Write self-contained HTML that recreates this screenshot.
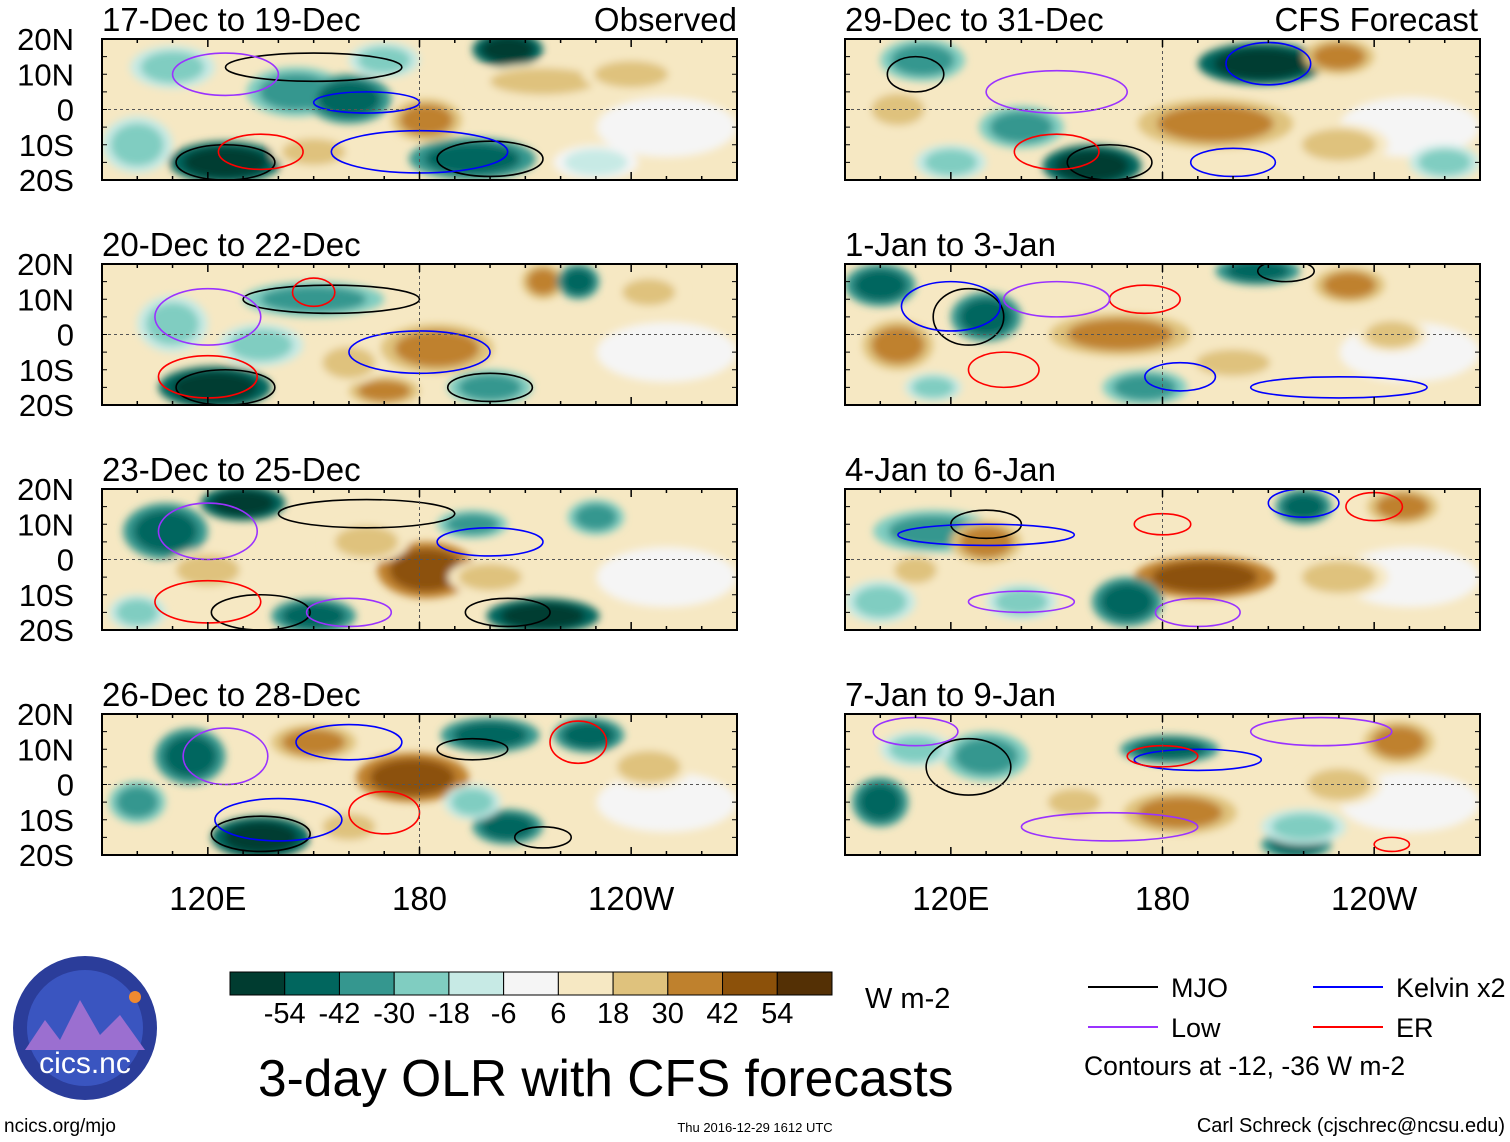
<!DOCTYPE html>
<html><head><meta charset="utf-8"><style>
body{margin:0;background:#fff;width:1510px;height:1142px;overflow:hidden;font-family:"Liberation Sans",sans-serif}
svg{position:absolute;left:0;top:0}
</style></head><body>
<svg id="chart" width="1510" height="1142"></svg>
<script>
const levelColors=["#003c30","#01665e","#35978f","#80cdc1","#c7eae5","#f5f5f5","#f6e8c3","#dfc27d","#bf812d","#8c510a","#543005"];
const levelLabels=["-54","-42","-30","-18","-6","6","18","30","42","54"];
const panelTitles=["17-Dec to 19-Dec","20-Dec to 22-Dec","23-Dec to 25-Dec","26-Dec to 28-Dec","29-Dec to 31-Dec","1-Jan to 3-Jan","4-Jan to 6-Jan","7-Jan to 9-Jan"];
const latTicks=["20N","10N","0","10S","20S"];
const lonTicks=[[120,"120E"],[180,"180"],[240,"120W"]];
// anomaly blobs: [lon, lat, rxDeg, ryDeg, levelIndex]
const blobs0=[[125,-15,16,6,0],[145,5,14,7,2],[160,3,12,7,1],[205,17,10,5,0],[195,-14,18,6,1],[215,8,20,5,7],[182,-3,10,6,8],[110,12,12,6,3],[150,-12,12,5,7],[240,10,14,5,7],[100,-10,10,8,3],[170,14,10,5,3],[230,-15,12,5,4]];
const blobs1=[[122,-15,16,6,0],[150,10,20,5,2],[185,-4,16,7,8],[215,15,6,5,8],[225,15,6,5,1],[135,-3,12,6,3],[200,-15,12,5,2],[245,12,10,5,7],[170,-16,10,4,8],[110,3,10,8,3],[160,-8,10,6,7]];
const blobs2=[[108,8,12,8,1],[130,16,12,5,0],[182,-3,14,8,9],[215,-16,16,5,0],[150,-16,12,5,1],[195,10,10,4,2],[230,12,8,5,2],[165,5,12,6,7],[120,-3,12,6,7],[200,-5,12,5,7],[100,-15,8,5,3]];
const blobs3=[[115,8,10,8,1],[135,-15,14,6,0],[178,2,16,7,9],[200,14,14,5,1],[228,14,10,5,1],[150,12,12,5,8],[205,-12,10,5,1],[160,-12,10,5,7],[245,5,12,6,7],[195,-5,8,5,3],[100,-5,8,6,2]];
const blobs4=[[208,13,18,6,0],[195,-4,22,7,8],[160,-16,14,6,0],[112,14,12,6,2],[260,-15,10,5,3],[140,-5,12,6,2],[230,-10,14,6,7],[105,0,10,6,7],[230,15,10,5,8],[120,-15,10,5,3]];
const blobs5=[[168,0,20,6,8],[130,5,10,7,1],[207,18,12,4,1],[233,14,10,5,8],[175,-15,12,5,2],[100,14,10,6,1],[105,-3,10,7,8],[200,-8,14,5,7],[115,-15,8,4,3],[245,0,10,5,7]];
const blobs6=[[192,-5,20,6,9],[115,8,17,6,2],[170,-12,10,7,1],[248,15,10,5,8],[220,15,8,5,1],[130,5,10,6,8],[230,-5,14,6,7],[100,-12,10,6,3],[140,-12,10,5,3],[110,-3,8,5,7]];
const blobs7=[[182,10,14,4,1],[185,-8,16,6,8],[218,-17,10,4,1],[247,12,10,6,8],[100,-5,8,7,1],[130,8,12,7,2],[155,-5,10,5,7],[230,0,12,6,7],[220,-12,12,5,3],[110,10,10,5,3]];
const blobSets=[blobs0,blobs1,blobs2,blobs3,blobs4,blobs5,blobs6,blobs7];
// contour ellipses: [lon, lat, rxDeg, ryDeg, colorIndex]  0 MJO,1 Kelvin,2 Low,3 ER
const contourColors=["#000","#0000ff","#9a32ff","#ff0000"];
const cont0=[[125,-15,14,5,0],[150,12,25,4,0],[200,-14,15,5,0],[135,-12,12,5,3],[180,-12,25,6,1],[125,10,15,6,2],[165,2,15,3,1]];
const cont1=[[125,-15,14,5,0],[155,10,25,4,0],[200,-15,12,4,0],[150,12,6,4,3],[180,-5,20,6,1],[120,5,15,8,2],[120,-12,14,6,3]];
const cont2=[[135,-15,14,5,0],[165,13,25,4,0],[205,-15,12,4,0],[120,-12,15,6,3],[200,5,15,4,1],[120,8,14,8,2],[160,-15,12,4,2]];
const cont3=[[135,-14,14,5,0],[195,10,10,3,0],[215,-15,8,3,0],[140,-10,18,6,1],[160,12,15,5,1],[125,8,12,8,2],[170,-8,10,6,3],[225,12,8,6,3]];
const cont4=[[110,10,8,5,0],[165,-15,12,5,0],[210,13,12,6,1],[150,5,20,6,2],[150,-12,12,5,3],[200,-15,12,4,1]];
const cont5=[[125,5,10,8,0],[215,18,8,3,0],[120,8,14,7,1],[185,-12,10,4,1],[175,10,10,4,3],[230,-15,25,3,1],[150,10,15,5,2],[135,-10,10,5,3]];
const cont6=[[130,10,10,4,0],[130,7,25,3,1],[220,16,10,4,1],[180,10,8,3,3],[190,-15,12,4,2],[140,-12,15,3,2],[240,15,8,4,3]];
const cont7=[[125,5,12,8,0],[190,7,18,3,1],[180,8,10,3,3],[165,-12,25,4,2],[245,-17,5,2,3],[225,15,20,4,2],[110,15,12,4,2]];
const contSets=[cont0,cont1,cont2,cont3,cont4,cont5,cont6,cont7];

const svg=document.getElementById('chart');
const NS="http://www.w3.org/2000/svg";
function mk(tag,attrs,parent){const e=document.createElementNS(NS,tag);for(const k in attrs)e.setAttribute(k,attrs[k]);(parent||svg).appendChild(e);return e;}
const defs=mk('defs',{});
const f=mk('filter',{id:'blur',x:'-50%',y:'-50%',width:'200%',height:'200%'},defs);
mk('feGaussianBlur',{stdDeviation:'4'},f);
const PW=635,PH=141;
const panelX=[102,102,102,102,845,845,845,845];
const panelY=[39,264,489,714,39,264,489,714];
function xs(px,lon){return px+(lon-90)/180*PW;}
function ys(py,lat){return py+(20-lat)/40*PH;}
for(let p=0;p<8;p++){
  const px=panelX[p],py=panelY[p];
  const cp=mk('clipPath',{id:'cp'+p},defs);
  mk('rect',{x:px,y:py,width:PW,height:PH},cp);
  const g=mk('g',{'clip-path':'url(#cp'+p+')'});
  
  
  mk('rect',{x:px,y:py,width:PW,height:PH,fill:'#f6e8c3'},g);
  const bg=mk('g',{filter:'url(#blur)'},g);
  mk('ellipse',{cx:xs(px,250),cy:ys(py,-5),rx:70,ry:30,fill:'#f5f5f5'},bg);
  blobSets[p].forEach(b=>{
    const e=mk('ellipse',{cx:xs(px,b[0]),cy:ys(py,b[1]),rx:b[2]/180*PW,ry:b[3]/40*PH,fill:levelColors[b[4]<5?Math.min(5,b[4]+1):Math.max(6,b[4]-1)]},bg);
    
    
    mk('ellipse',{cx:xs(px,b[0]),cy:ys(py,b[1]),rx:b[2]/180*PW*0.75,ry:b[3]/40*PH*0.75,fill:levelColors[b[4]]},bg);
  });
  contSets[p].forEach(c=>{
    const e=mk('ellipse',{cx:xs(px,c[0]),cy:ys(py,c[1]),rx:c[2]/180*PW,ry:c[3]/40*PH,fill:'none',stroke:contourColors[c[4]],'stroke-width':1.6},g);
    
    
  });
  mk('line',{x1:px,x2:px+PW,y1:ys(py,0),y2:ys(py,0),stroke:'#555','stroke-dasharray':'3,3'},g);
  mk('line',{x1:xs(px,180),x2:xs(px,180),y1:py,y2:py+PH,stroke:'#555','stroke-dasharray':'3,3'},g);
  mk('rect',{x:px,y:py,width:PW,height:PH,fill:'none',stroke:'#000','stroke-width':2});
  for(let lon=90;lon<=270;lon+=10){const x=xs(px,lon);const L=(lon%60==0)?8:4;
    mk('line',{x1:x,x2:x,y1:py,y2:py+L,stroke:'#000','stroke-width':1.5});
    mk('line',{x1:x,x2:x,y1:py+PH,y2:py+PH-L,stroke:'#000','stroke-width':1.5});}
  for(let lat=-20;lat<=20;lat+=5){const y=ys(py,lat);
    mk('line',{x1:px,x2:px+5,y1:y,y2:y,stroke:'#000'});mk('line',{x1:px+PW,x2:px+PW-5,y1:y,y2:y,stroke:'#000'});}
  const t=mk('text',{x:px,y:py-8,'font-size':33});t.textContent=panelTitles[p];
  
  if(p<4){latTicks.forEach((s,i)=>{const tt=mk('text',{x:74,y:py+i*PH/4+11,'font-size':31,'text-anchor':'end'});tt.textContent=s;
    });}
}
[[737,"Observed"],[1478,"CFS Forecast"]].forEach(a=>{const t=mk('text',{x:a[0],y:31,'font-size':33,'text-anchor':'end'});t.textContent=a[1];
  });
[102,845].forEach(px=>lonTicks.forEach(l=>{const t=mk('text',{x:xs(px,l[0]),y:910,'font-size':33,'text-anchor':'middle'});t.textContent=l[1];
  }));
// colorbar
const cbX=230,cbW=602/11;
levelColors.forEach((c,i)=>{const r=mk('rect',{x:cbX+i*cbW,y:972,width:cbW,height:23,fill:c,stroke:'#000','stroke-width':1});
  });
levelLabels.forEach((s,i)=>{const t=mk('text',{x:cbX+(i+1)*cbW,y:1023,'font-size':29,'text-anchor':'middle'});t.textContent=s;
  });
function txt(x,y,s,size,name,anchor){const t=mk('text',{x:x,y:y,'font-size':size,'text-anchor':anchor||'start'});t.textContent=s;
  return t;}
txt(865,1008,"W m-2",29,"colorbar-units");
txt(258,1096,"3-day OLR with CFS forecasts",51.5,"main-title");
[[1088,987,"MJO",0],[1313,987,"Kelvin x2",1],[1088,1027,"Low",2],[1313,1027,"ER",3]].forEach(l=>{
  mk('line',{x1:l[0],x2:l[0]+70,y1:l[1],y2:l[1],stroke:contourColors[l[3]],'stroke-width':2});
  txt(l[0]+83,l[1]+10,l[2],27,"legend-entry");});
txt(1084,1075,"Contours at -12, -36 W m-2",26.5,"contour-note");
txt(4,1132,"ncics.org/mjo",19,"footer-url");
txt(755,1132,"Thu 2016-12-29 1612 UTC",13,"footer-date","middle");
txt(1505,1132,"Carl Schreck (cjschrec@ncsu.edu)",20,"footer-author","end");
const logo=mk('g',{});
mk('circle',{cx:85,cy:1028,r:72,fill:'#2b3d9a'},logo);
mk('circle',{cx:85,cy:1028,r:58,fill:'#3a55c0'},logo);
mk('path',{d:"M25 1050 L45 1020 L60 1040 L80 1000 L100 1035 L120 1015 L145 1050 Z",fill:'#9b6fd0'},logo);
mk('circle',{cx:135,cy:997,r:6,fill:'#f08a30'},logo);
const lt=mk('text',{x:85,y:1073,'font-size':30,'text-anchor':'middle',fill:'#fff'},logo);lt.textContent="cics.nc";
</script>
</body></html>
